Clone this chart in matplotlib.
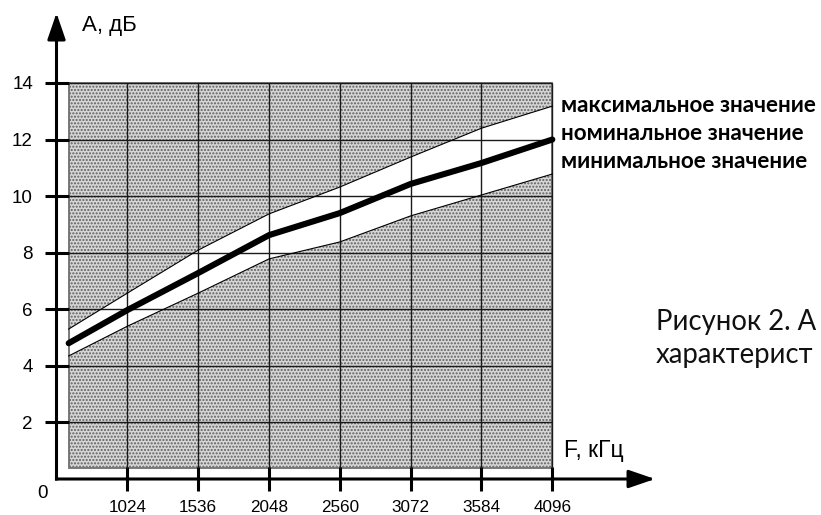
import matplotlib
matplotlib.use('Agg')
import matplotlib.pyplot as plt
from matplotlib.patches import Rectangle

# ---- data ----
freq = [600, 1024, 1536, 2048, 2560, 3072, 3584, 4096]          # kHz
a_max = [5.30, 6.57, 8.09, 9.37, 10.32, 11.38, 12.40, 13.18]     # dB
a_nom = [4.80, 5.97, 7.28, 8.62, 9.40, 10.43, 11.17, 12.00]      # dB
a_min = [4.35, 5.40, 6.57, 7.78, 8.38, 9.30, 10.04, 10.78]       # dB
x_ticks = [1024, 1536, 2048, 2560, 3072, 3584, 4096]
y_ticks = [2, 4, 6, 8, 10, 12, 14]
legend_labels = ['максимальное значение', 'номинальное значение', 'минимальное значение']
caption = ['Рисунок 2. А', 'характерист']   # visible part of the caption (cut by the page edge)

W, H = 821, 515
fig = plt.figure(figsize=(W / 100, H / 100), dpi=100)
ax = fig.add_axes([0, 0, 1, 1])

# pixel layout of the reference
x0_px, px_per_512 = 56.5, 70.83
y0_px, px_per_unit = 479.0, 28.29
ax.set_xlim(512 - x0_px / px_per_512 * 512, 512 + (W - x0_px) / px_per_512 * 512)
ax.set_ylim(-(H - y0_px) / px_per_unit, y0_px / px_per_unit)

for s in ax.spines.values():
    s.set_visible(False)
ax.spines['left'].set_position(('data', 512))
ax.spines['bottom'].set_position(('data', 0))

SANS = ['Liberation Sans', 'DejaVu Sans']
CAL = ['Lato', 'Noto Sans', 'DejaVu Sans']

# shaded (tolerance-out) regions
f0, f1, ybot, ytop = freq[0], freq[-1], 0.4, y_ticks[-1]
hatch_kw = dict(facecolor='#d6d6d6', edgecolor='#5e5e5e', hatch='.....', linewidth=0)
ax.fill_between(freq, a_max, ytop, **hatch_kw)
ax.fill_between(freq, ybot, a_min, **hatch_kw)
ax.add_patch(Rectangle((f0, ybot), f1 - f0, ytop - ybot, fill=False,
                       edgecolor='#707070', lw=1.3))

# grid
ax.vlines(x_ticks, ybot, ytop, color='#1a1a1a', lw=1.0)
ax.hlines(y_ticks, f0, f1, color='#1a1a1a', lw=1.0)

# curves
ax.plot(freq, a_max, color='k', lw=0.8)
ax.plot(freq, a_min, color='k', lw=0.8)
ax.plot(freq, a_nom, color='k', lw=4.4, solid_capstyle='round')

# axes arrows
ap = dict(arrowstyle='-|>,head_length=1.6,head_width=0.55', lw=2.2, color='k',
          shrinkA=0, shrinkB=0, capstyle='projecting')
ax.annotate('', xy=(512, 16.47), xytext=(512, 0), arrowprops=ap)
ax.annotate('', xy=(4838, 0), xytext=(512, 0), arrowprops=ap)

# ticks
ax.set_xticks(x_ticks)
ax.set_xticklabels([str(v) for v in x_ticks], family=SANS, fontsize=12.3)
ax.set_yticks(y_ticks)
ax.set_yticklabels([str(v) for v in y_ticks], family=SANS, fontsize=13.5)
ax.tick_params(axis='x', direction='inout', length=17, width=2.2, pad=6.5)
ax.tick_params(axis='y', direction='inout', length=17, width=2.2, pad=8.5)


def ftext(xp, yp, s, **kw):
    fig.text(xp / W, 1 - yp / H, s, **kw)


ftext(42, 493, '0', family=SANS, fontsize=13.5, ha='center', va='center')
ftext(82, 26, 'A, дБ', family=SANS, fontsize=16, ha='left', va='center')
ftext(564, 451, 'F, кГц', family=SANS, fontsize=16.5, ha='left', va='center')
for yp, lab in zip([106, 134, 162], legend_labels):
    ftext(561, yp, lab, family=CAL, fontsize=16.2, fontweight='bold', ha='left', va='center')
for yp, lab in zip([322, 355], caption):
    ftext(656, yp, lab, family=CAL, fontsize=19.8, ha='left', va='center', color='#111')

fig.savefig('out.png', dpi=100)
